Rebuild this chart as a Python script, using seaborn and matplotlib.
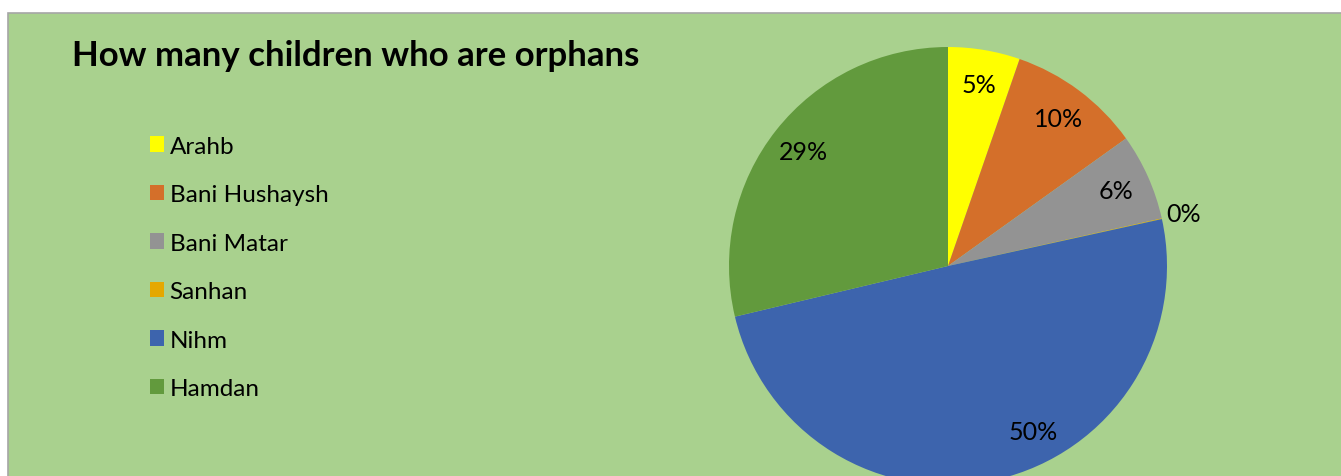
"""Pie chart: how many children who are orphans, by district."""

import matplotlib

matplotlib.use("Agg")

import matplotlib.pyplot as plt
import numpy as np
import seaborn as sns
from matplotlib.patches import Rectangle

districts = ["Arahb", "Bani Hushaysh", "Bani Matar", "Sanhan", "Nihm", "Hamdan"]
shares = [5.3, 9.8, 6.4, 0.05, 49.7, 28.7]
slice_colors = ["#FFFF00", "#D46F2A", "#939393", "#E5A800", "#3D64AD", "#629A3D"]
title = "How many children who are orphans"

BG = "#A9D18E"

sns.set_theme(style="white")
plt.rcParams["font.family"] = ["Lato", "DejaVu Sans"]
plt.rcParams["text.color"] = "black"

W, H = 1341, 477
fig = plt.figure(figsize=(W / 100, H / 100), dpi=100, facecolor="white")

# chart area with a thin grey frame (runs past the right/bottom edges)
fig.patches.append(Rectangle((8 / W, -0.05), 1.1, 1 - 14 / H + 0.05,
                             transform=fig.transFigure, facecolor=BG,
                             edgecolor="#A6A6A6", linewidth=1.2, zorder=-5))

# pie axes: centre (948, 267) px, radius 219 px
cx, cy, r = 948, 267, 219
ax = fig.add_axes([(cx - r) / W, 1 - (cy + r) / H, 2 * r / W, 2 * r / H])
ax.set_facecolor("none")
ax.set_zorder(2)

wedges, texts, autotexts = ax.pie(
    shares, colors=slice_colors, startangle=90, counterclock=False,
    autopct=lambda p: f"{p:.0f}%", pctdistance=0.84,
    textprops={"fontsize": 18, "color": "black"},
    wedgeprops={"linewidth": 0},
)
ax.set_xlim(-1, 1)
ax.set_ylim(-1, 1)
ax.set_aspect("auto")


def place_label(k, frac, dist):
    # put a slice label at a fraction of the wedge's sweep, at a given radius
    w = wedges[k]
    a = np.deg2rad(w.theta2 + frac * (w.theta1 - w.theta2))
    autotexts[k].set_position((dist * np.cos(a), dist * np.sin(a)))


# tiny Sanhan slice: label just outside the pie
place_label(districts.index("Sanhan"), 0.5, 1.1)
# Nihm label sits a bit before the middle of its slice, as in the original
place_label(districts.index("Nihm"), 0.42, 0.85)

fig.text(72 / W, 1 - 66 / H, title, fontsize=25, fontweight="bold",
         color="black", ha="left", va="baseline")

fig.legend(wedges, districts, loc="upper left",
           bbox_to_anchor=(140 / W, 1 - 127 / H), frameon=False,
           fontsize=17.5, labelcolor="black",
           handlelength=0.6, handleheight=0.6,
           handletextpad=0.22, labelspacing=1.13, borderaxespad=0)

fig.savefig("out.png", dpi=100, facecolor="white")
